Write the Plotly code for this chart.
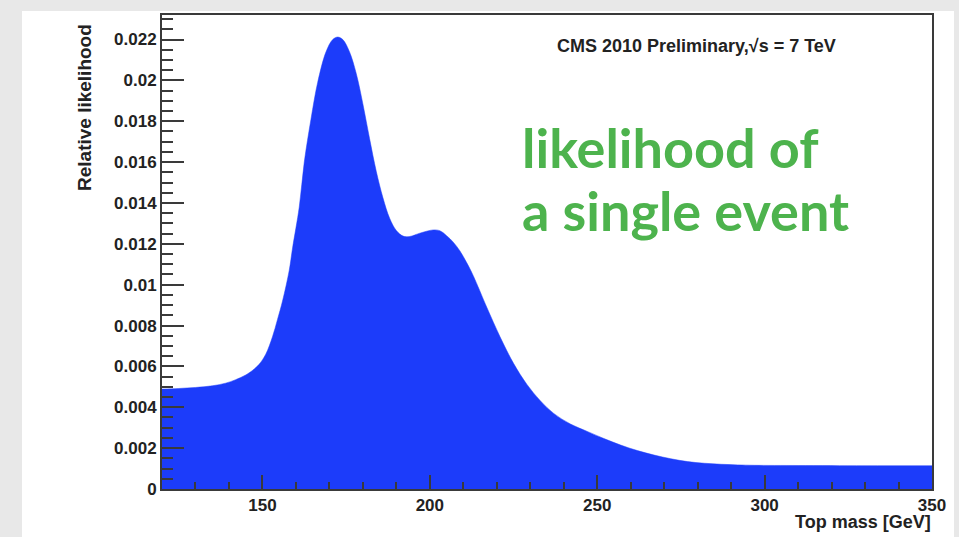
import plotly.graph_objects as go

# Top-mass likelihood for a single event (CMS 2010, sqrt(s) = 7 TeV)
top_mass = [120, 125, 130, 135, 139, 142, 145, 147, 149, 151, 153, 154.5, 156, 158,
            159, 161, 162.5, 164.5, 166.5, 169, 171, 172.5, 174, 176, 178, 180,
            182, 184, 186, 188, 190, 192, 194, 197, 201, 203, 205, 207, 209, 211,
            213, 217, 221, 225, 229, 233, 237, 242, 247, 252, 257, 262, 267, 272,
            277, 282, 287, 292, 297, 310, 330, 350]
likelihood = [0.00489, 0.00492, 0.00497, 0.00505, 0.00518, 0.00535, 0.00558, 0.00580,
              0.00610, 0.00660, 0.00745, 0.00830, 0.00920, 0.01070, 0.01180, 0.01380,
              0.01600, 0.01810, 0.01990, 0.02140, 0.02200, 0.02212, 0.02200, 0.02140,
              0.02035, 0.01885, 0.01715, 0.01555, 0.01425, 0.01325, 0.01265, 0.01238,
              0.01236, 0.01252, 0.01268, 0.01264, 0.01240, 0.01208, 0.01165, 0.01108,
              0.01043, 0.00890, 0.00744, 0.00615, 0.00512, 0.00432, 0.00370, 0.00318,
              0.00282, 0.00247, 0.00215, 0.00188, 0.00166, 0.00148, 0.00134, 0.00126,
              0.00121, 0.00118, 0.00116, 0.00115, 0.00114, 0.00114]

x_ticks = [150, 200, 250, 300, 350]
y_ticks = [0, 0.002, 0.004, 0.006, 0.008, 0.01, 0.012, 0.014, 0.016, 0.018, 0.02, 0.022]
y_tick_text = ["0", "0.002", "0.004", "0.006", "0.008", "0.01", "0.012", "0.014",
               "0.016", "0.018", "0.02", "0.022"]

W, H = 959, 537
L, R, T, B = 162, 932, 15, 489  # plot frame in pixels


def fx(px):
    return (px - L) / (R - L)


def fy(py):
    return (B - py) / (B - T)


FONT = "Liberation Sans, Arial, sans-serif"
AX = "#3a3a3a"
BLUE = "#1c3cfa"
GREEN = "#4db34d"

fig = go.Figure()
fig.add_trace(go.Scatter(
    x=top_mass, y=likelihood, mode="lines",
    line=dict(shape="spline", smoothing=1.0, width=0.5, color=BLUE),
    fill="tozeroy", fillcolor=BLUE, hoverinfo="skip", showlegend=False,
))

axis_common = dict(
    showgrid=False, zeroline=False, showline=True, linecolor=AX, linewidth=2,
    mirror=True, ticks="inside", tickcolor=AX, tickwidth=2,
    tickfont=dict(family=FONT, size=17, color="#222", weight="bold"),
)

fig.update_xaxes(
    range=[120, 350], tickvals=x_ticks, ticklen=14,
    minor=dict(ticks="inside", dtick=10, ticklen=7, tickcolor=AX, tickwidth=2),
    **axis_common,
)
fig.update_yaxes(
    range=[0, 0.0232], tickvals=y_ticks, ticktext=y_tick_text, ticklen=22,
    minor=dict(ticks="inside", dtick=0.0005, ticklen=11, tickcolor=AX, tickwidth=2),
    **axis_common,
)

# white panel on the grey backdrop
fig.add_shape(type="rect", xref="paper", yref="paper", layer="below",
              x0=fx(22), x1=fx(954), y0=fy(537), y1=fy(11),
              fillcolor="white", line=dict(width=0))

annotations = [
    dict(text="<b>CMS 2010 Preliminary,√s = 7 TeV</b>", x=fx(696), y=fy(46),
         xanchor="center", yanchor="middle", font=dict(family=FONT, size=18, color="#222")),
    dict(text="<b>likelihood of</b>", x=fx(520), y=fy(147),
         xanchor="left", yanchor="middle", font=dict(family="Lato, sans-serif", size=54, color=GREEN)),
    dict(text="<b>a single event</b>", x=fx(520), y=fy(211),
         xanchor="left", yanchor="middle", font=dict(family="Lato, sans-serif", size=54, color=GREEN)),
    dict(text="<b>Relative likelihood</b>", x=fx(84), y=fy(108), textangle=-90,
         xanchor="center", yanchor="middle", font=dict(family=FONT, size=19, color="#222")),
    dict(text="<b>Top mass [GeV]</b>", x=fx(933), y=fy(522),
         xanchor="right", yanchor="middle", font=dict(family=FONT, size=18, color="#222")),
]
for a in annotations:
    a.update(xref="paper", yref="paper", showarrow=False)
fig.update_layout(annotations=annotations)

fig.update_layout(
    width=W, height=H, autosize=False,
    margin=dict(l=L, r=W - R, t=T, b=H - B, pad=0),
    paper_bgcolor="#e8e8e8", plot_bgcolor="white",
)

fig.write_html("out.html")
